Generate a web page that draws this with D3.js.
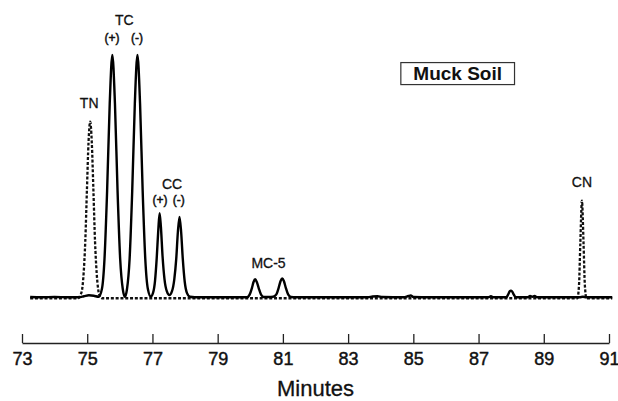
<!DOCTYPE html>
<html>
<head>
<meta charset="utf-8">
<script src="https://cdn.jsdelivr.net/npm/d3@7"></script>
<style>
  html, body { margin: 0; padding: 0; background: #fff; }
  svg { display: block; font-family: "Liberation Sans", Arial, sans-serif; }
</style>
</head>
<body>
<svg id="chart" width="618" height="401"></svg>
<script>
var axisTicks = [73, 75, 77, 79, 81, 83, 85, 87, 89, 91];

// [minutes, response]; response 0 = baseline, TC peaks = 100
var solidTrace = [
  [73.25, 0.2], [73.6, 0.1], [74.0, 0.2], [74.4, 0.1], [74.75, 0.1],
  [74.9, 0.5], [75.05, 0.9], [75.2, 0.7], [75.35, 0.3],
  [75.45, 3.5], [75.53, 16], [75.61, 44], [75.69, 80], [75.77, 100],
  [75.85, 80], [75.93, 44], [76.01, 16], [76.09, 3.5], [76.155, 0.3],
  [76.22, 3.5], [76.30, 16], [76.38, 44], [76.46, 80], [76.54, 100],
  [76.62, 80], [76.70, 44], [76.78, 16], [76.86, 3.5], [76.95, 0.4],
  [77.02, 2], [77.08, 7], [77.13, 16], [77.18, 28], [77.22, 34.8],
  [77.26, 29], [77.31, 17], [77.37, 7.5], [77.44, 2.6], [77.52, 1.0],
  [77.6, 2.6], [77.67, 7.5], [77.73, 16], [77.78, 27], [77.83, 33.2],
  [77.88, 27], [77.93, 16], [77.99, 6.5], [78.06, 1.8], [78.15, 0.3],
  [78.3, 0.1], [79.0, 0.1], [79.6, 0.1], [79.9, 0.1],
  [79.98, 1.2], [80.05, 3.9], [80.1, 6.4], [80.15, 7.5], [80.2, 6.4],
  [80.26, 3.8], [80.33, 1.2], [80.42, 0.2], [80.57, 0.2], [80.7, 0.3],
  [80.8, 1.3], [80.87, 4.0], [80.93, 6.8], [80.98, 7.9], [81.03, 6.8],
  [81.09, 4.0], [81.16, 1.3], [81.25, 0.2], [81.4, 0.1],
  [82.5, 0.1], [83.6, 0.1], [83.75, 0.4], [83.9, 0.5], [84.05, 0.2],
  [84.7, 0.1], [84.85, 0.6], [84.92, 0.8], [85.0, 0.2], [85.5, 0.1],
  [86.5, 0.1], [87.3, 0.1], [87.38, 0.5], [87.45, 0.1], [87.85, 0.1],
  [87.91, 1.3], [87.96, 2.6], [87.99, 2.8], [88.03, 2.5], [88.08, 1.2],
  [88.14, 0.1], [88.5, 0.1], [88.58, 0.6], [88.65, 0.3], [88.72, 0.6],
  [88.8, 0.1], [89.5, 0.1], [90.1, 0.1], [90.2, 0.3], [90.3, 0.1],
  [91.1, 0.1]
];

var dashedTrace = [
  [73.25, -0.3], [74.0, -0.3], [74.72, -0.3],
  [74.79, 1], [74.84, 3], [74.89, 10], [74.94, 23], [74.99, 44],
  [75.04, 64], [75.09, 72.5], [75.14, 64], [75.19, 44], [75.24, 23],
  [75.29, 10], [75.34, 3], [75.39, 0.5], [75.45, -0.3],
  [76.5, -0.3], [78, -0.3], [80, -0.3], [82, -0.3], [84, -0.3],
  [86, -0.3], [88, -0.3], [90.03, -0.3],
  [90.08, 5], [90.12, 22], [90.17, 39.9], [90.22, 22], [90.26, 5],
  [90.31, -0.3], [91.1, -0.3]
];

// peak annotations, placed in [minutes, response] space
var peakLabels = [
  { text: 'TN',   t: 75.06, v: 80.2,  kind: 'name' },
  { text: 'TC',   t: 76.14, v: 114.4, kind: 'name' },
  { text: '(+)',  t: 75.76, v: 107,   kind: 'sign' },
  { text: '(-)',  t: 76.53, v: 107,   kind: 'sign' },
  { text: 'CC',   t: 77.6,  v: 46.8,  kind: 'name' },
  { text: '(+)',  t: 77.23, v: 40.2,  kind: 'sign' },
  { text: '(-)',  t: 77.81, v: 40.2,  kind: 'sign' },
  { text: 'MC-5', t: 80.56, v: 14.2,  kind: 'name' },
  { text: 'CN',   t: 90.17, v: 47.6,  kind: 'name' }
];

var sampleName = 'Muck Soil';
var sampleAt = [86.36, 92.4];
var axisTitle = 'Minutes';

(function() {
  var svg = d3.select('#chart');

  var x = d3.scaleLinear().domain([73, 91]).range([22, 609]),
    y = d3.scaleLinear().domain([0, 100]).range([297.5, 55]);

  var line = d3.line()
    .x(function(d) { return x(d[0]); })
    .y(function(d) { return y(d[1]); })
    .curve(d3.curveMonotoneX);

  svg.append('path')
    .datum(dashedTrace)
    .attr('d', line)
    .attr('fill', 'none')
    .attr('stroke', '#111')
    .attr('stroke-width', 2.3)
    .attr('stroke-dasharray', '3,1.8');

  svg.append('path')
    .datum(solidTrace)
    .attr('d', line)
    .attr('fill', 'none')
    .attr('stroke', '#000')
    .attr('stroke-width', 2.4)
    .attr('stroke-linejoin', 'round');

  var axis = svg.append('g')
    .attr('transform', 'translate(0,343)')
    .call(d3.axisBottom(x)
      .tickValues(axisTicks)
      .tickSizeInner(-9)
      .tickSizeOuter(0)
      .tickPadding(9)
      .tickFormat(d3.format('d')))
    .attr('font-family', null)
    .attr('font-size', 18);

  axis.select('.domain').attr('stroke', '#222').attr('stroke-width', 1.5);
  axis.selectAll('.tick line').attr('stroke', '#222').attr('stroke-width', 1.3);
  axis.selectAll('.tick text')
    .attr('fill', '#111')
    .attr('stroke', '#111')
    .attr('stroke-width', 0.45);

  svg.append('text')
    .attr('x', (x.range()[0] + x.range()[1]) / 2)
    .attr('y', 396)
    .attr('text-anchor', 'middle')
    .attr('font-size', 22)
    .attr('fill', '#111')
    .attr('stroke', '#111')
    .attr('stroke-width', 0.3)
    .text(axisTitle);

  svg.selectAll('text.peak-label')
    .data(peakLabels)
    .enter()
    .append('text')
    .classed('peak-label', true)
    .attr('x', function(d) { return x(d.t); })
    .attr('y', function(d) { return y(d.v); })
    .attr('dy', '0.35em')
    .attr('text-anchor', 'middle')
    .attr('font-size', function(d) { return d.kind === 'name' ? 14 : 12; })
    .attr('fill', '#111')
    .attr('stroke', '#111')
    .attr('stroke-width', function(d) { return d.kind === 'name' ? 0.3 : 0.5; })
    .text(function(d) { return d.text; });

  var sample = svg.append('g');
  var sampleText = sample.append('text')
    .attr('x', x(sampleAt[0]))
    .attr('y', y(sampleAt[1]))
    .attr('dy', '0.35em')
    .attr('text-anchor', 'middle')
    .attr('font-size', 19)
    .attr('font-weight', 'bold')
    .attr('fill', '#111')
    .text(sampleName);

  var bb = sampleText.node().getBBox();
  sample.insert('rect', 'text')
    .attr('x', bb.x - 12.5)
    .attr('y', bb.y - 0.5)
    .attr('width', bb.width + 25)
    .attr('height', bb.height + 1)
    .attr('fill', '#fff')
    .attr('stroke', '#333')
    .attr('stroke-width', 1.2);
})();
</script>
</body>
</html>
